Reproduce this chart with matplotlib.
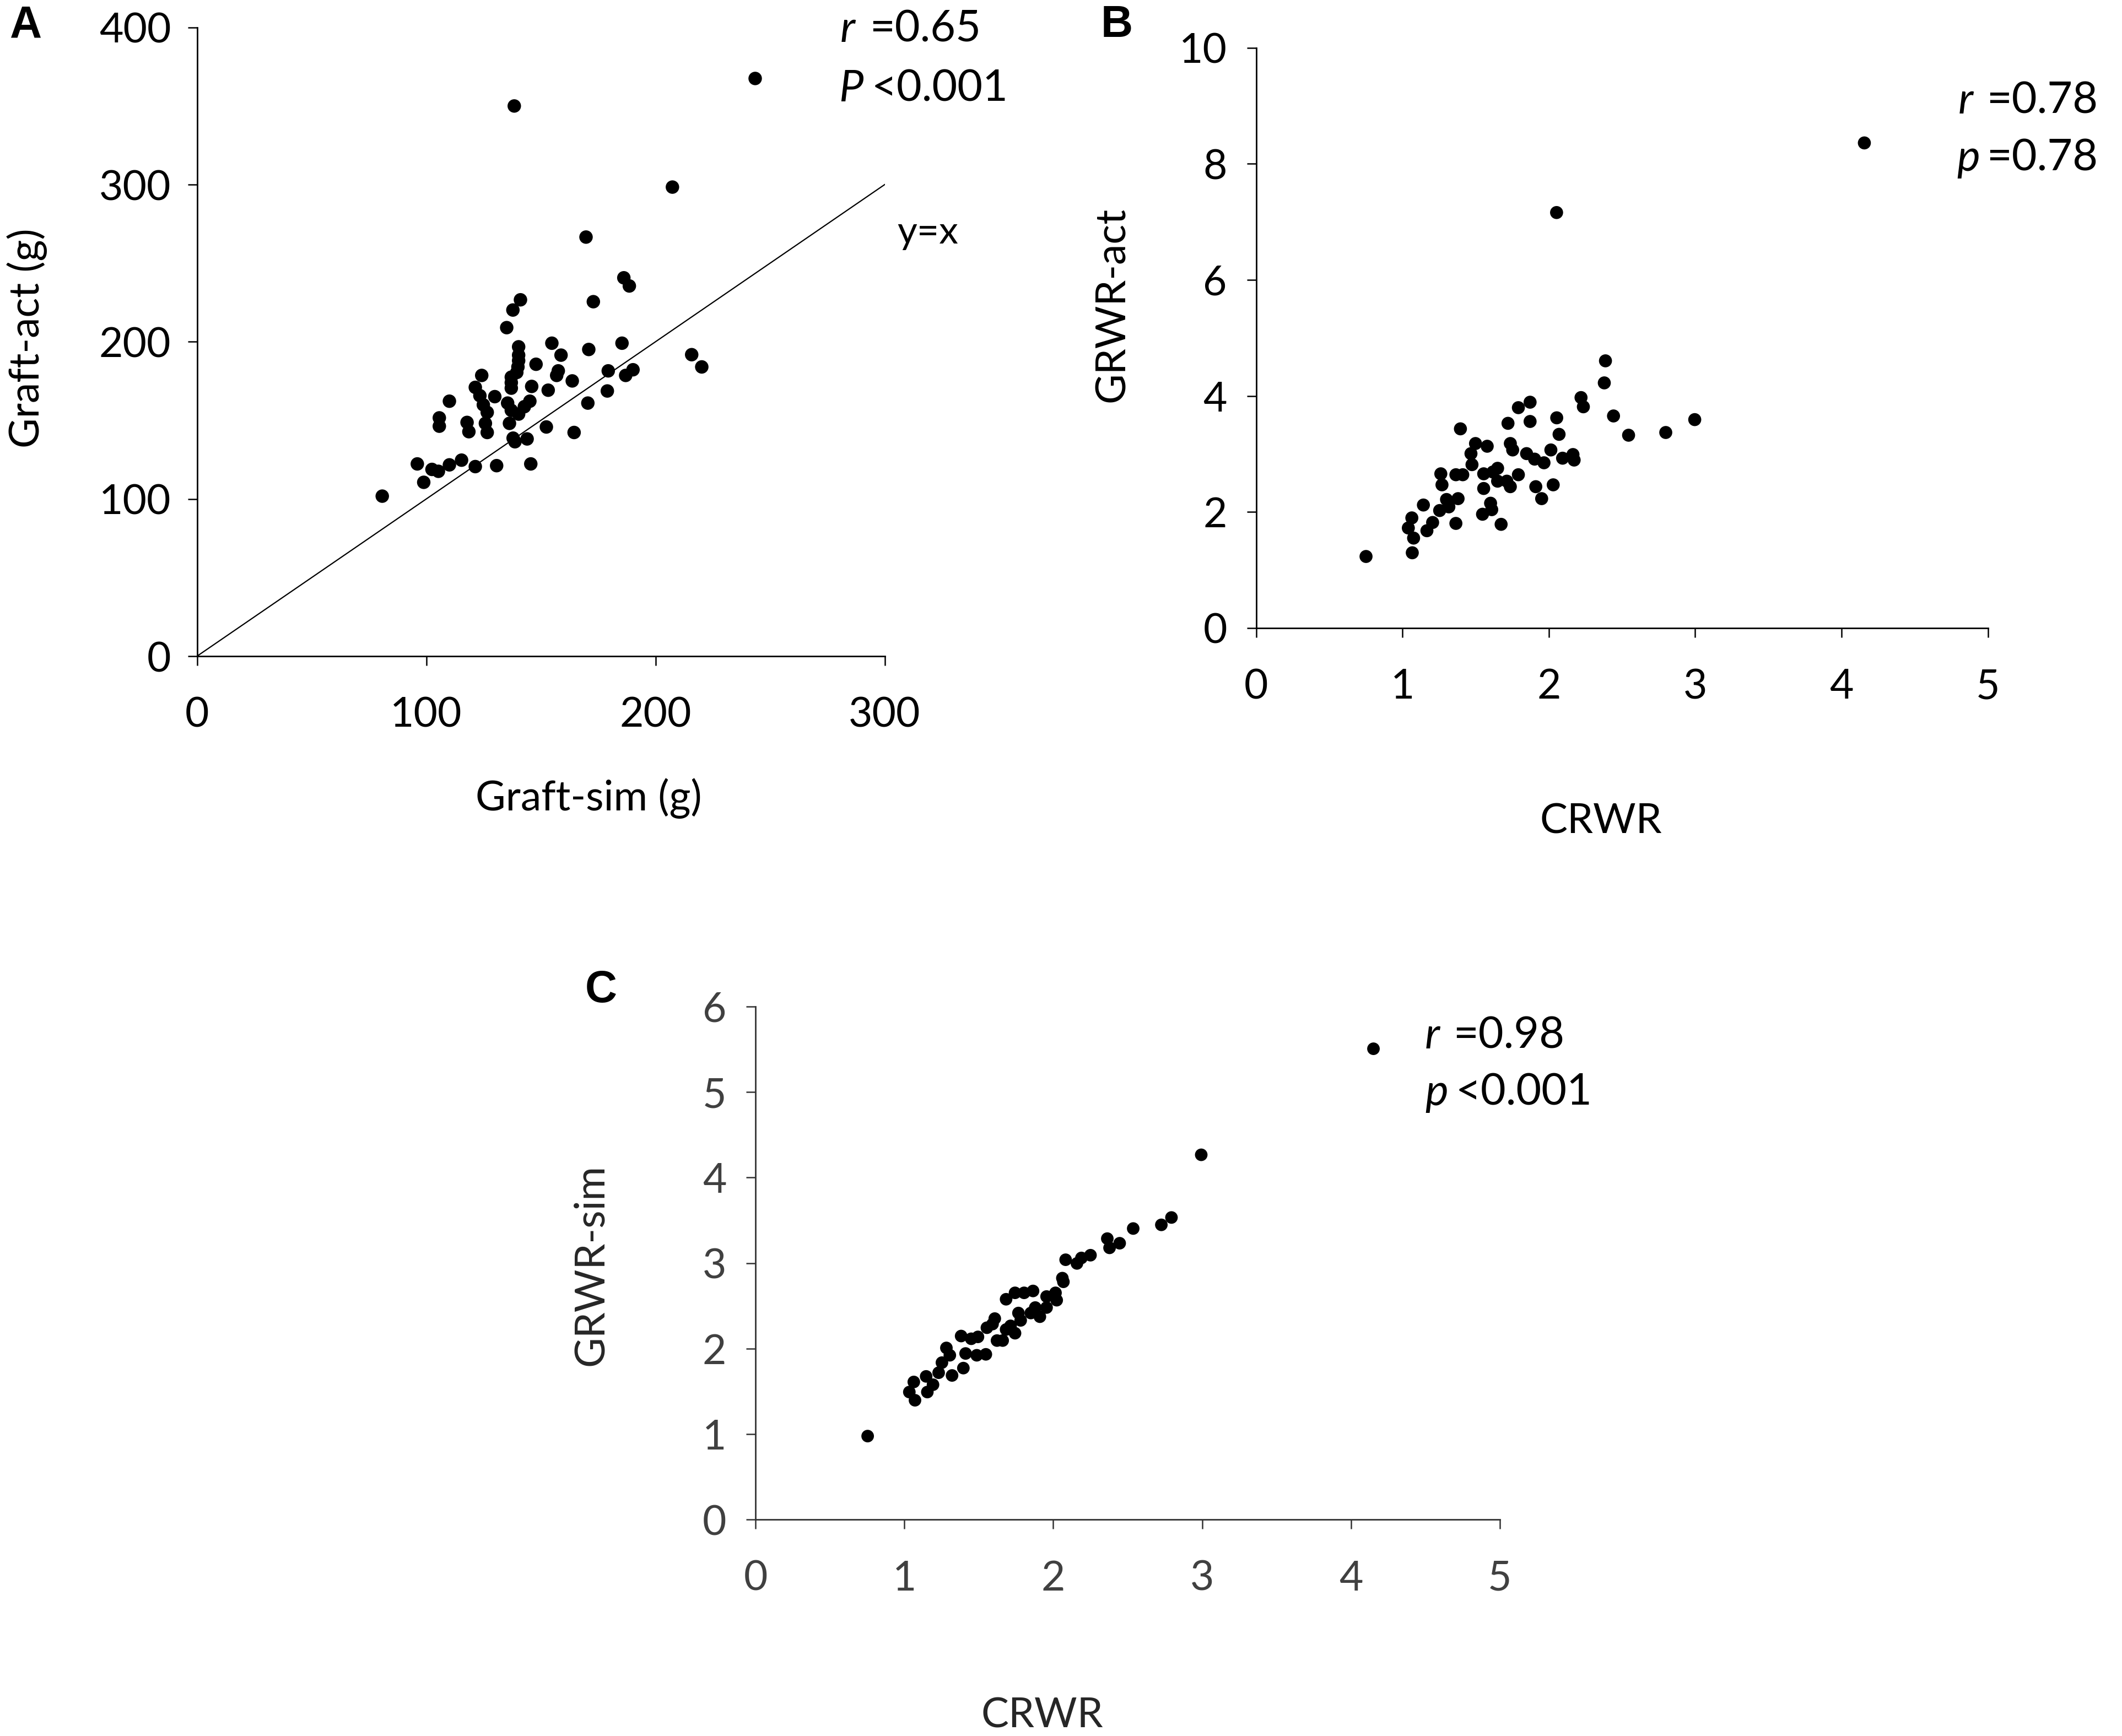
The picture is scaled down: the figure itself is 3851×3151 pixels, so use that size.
import numpy as np
import matplotlib
matplotlib.use("Agg")
import matplotlib.pyplot as plt

plt.rcParams['font.family'] = ['Lato', 'DejaVu Sans']

# ---- panel A: Graft-sim vs Graft-act (g)
graft_sim = [80.8, 138.4, 243.5, 207.4, 169.7, 186.2, 188.6, 172.9, 141.1, 137.8,
             135.1, 140.3, 140.3, 140.3, 140.0, 139.5, 137.1, 137.1, 137.1, 135.5,
             137.1, 140.3, 146.0, 145.2, 142.8, 147.9, 154.8, 158.8, 157.6, 156.9,
             163.7, 153.2, 170.9, 185.4, 179.4, 187.0, 190.2, 179.0, 170.5, 152.4,
             164.5, 124.2, 121.4, 123.4, 124.9, 126.6, 129.9, 110.1, 105.7, 105.7,
             117.8, 118.6, 125.8, 126.6, 136.3, 137.9, 138.7, 144.0, 145.6, 130.7,
             121.4, 115.4, 110.1, 105.3, 102.5, 96.1, 98.9, 215.8, 220.2]
graft_act = [101.8, 350.0, 367.5, 298.4, 266.6, 240.7, 235.5, 225.5, 226.7, 220.2,
             209.0, 196.8, 191.5, 188.0, 184.0, 180.5, 177.5, 174.0, 170.5, 161.0,
             156.4, 154.0, 171.6, 162.2, 158.7, 185.7, 199.1, 191.5, 181.5, 178.6,
             175.1, 169.2, 195.1, 199.1, 181.5, 178.6, 182.2, 168.7, 161.0, 145.8,
             142.3, 178.6, 171.0, 165.7, 159.9, 155.1, 165.1, 162.2, 151.6, 146.3,
             148.7, 142.8, 148.1, 142.3, 148.1, 138.7, 136.4, 138.2, 122.3, 121.2,
             120.6, 124.7, 121.7, 117.6, 118.8, 122.3, 110.6, 191.8, 184.0]

# ---- panel B: CRWR vs GRWR-act
crwr_b = [0.751, 1.067, 1.076, 1.040, 1.064, 1.143, 1.167, 1.206, 1.254, 1.301,
          1.317, 1.365, 1.380, 1.270, 1.262, 1.365, 1.412, 1.396, 1.475, 1.468,
          1.499, 1.579, 1.555, 1.555, 1.547, 1.602, 1.610, 1.618, 1.650, 1.650,
          1.713, 1.737, 1.674, 1.792, 1.721, 1.737, 1.753, 1.792, 1.872, 1.872,
          1.848, 1.903, 1.967, 1.911, 1.951, 2.014, 2.054, 2.070, 2.030, 2.094,
          2.165, 2.173, 2.220, 2.236, 2.379, 2.387, 2.442, 2.545, 2.799, 2.997,
          2.053, 4.156]
grwr_act = [1.232, 1.296, 1.549, 1.723, 1.897, 2.119, 1.676, 1.818, 2.024, 2.214,
            2.087, 1.802, 2.229, 2.467, 2.657, 2.641, 2.641, 3.432, 2.815, 3.005,
            3.179, 3.132, 2.657, 2.404, 1.960, 2.150, 2.039, 2.688, 2.752, 2.530,
            2.530, 2.435, 1.786, 2.641, 3.527, 3.179, 3.068, 3.797, 3.891, 3.559,
            3.005, 2.910, 2.847, 2.435, 2.229, 3.068, 3.622, 3.337, 2.467, 2.926,
            2.989, 2.894, 3.971, 3.812, 4.224, 4.604, 3.654, 3.322, 3.369, 3.591,
            7.16, 8.36]

# ---- panel C: CRWR vs GRWR-sim
crwr_c = [0.753, 1.071, 1.033, 1.063, 1.154, 1.146, 1.192, 1.230, 1.252, 1.282,
          1.305, 1.320, 1.396, 1.381, 1.411, 1.449, 1.494, 1.486, 1.547, 1.554,
          1.592, 1.622, 1.607, 1.660, 1.683, 1.713, 1.743, 1.766, 1.781, 1.683,
          1.743, 1.804, 1.864, 1.849, 1.879, 1.910, 1.955, 1.955, 2.015, 2.023,
          2.061, 2.068, 2.083, 2.159, 2.189, 2.250, 2.363, 2.378, 2.446, 2.537,
          2.726, 2.794, 2.994, 4.151]
grwr_sim = [0.977, 1.396, 1.492, 1.610, 1.492, 1.675, 1.578, 1.718, 1.836, 2.008,
            1.922, 1.686, 1.772, 2.147, 1.943, 2.115, 2.137, 1.922, 1.933, 2.244,
            2.287, 2.094, 2.351, 2.094, 2.223, 2.266, 2.180, 2.416, 2.330, 2.577,
            2.652, 2.652, 2.674, 2.416, 2.480, 2.373, 2.480, 2.609, 2.652, 2.566,
            2.824, 2.781, 3.039, 2.996, 3.060, 3.092, 3.286, 3.178, 3.232, 3.404,
            3.447, 3.533, 4.266, 5.506]

W, H = 3851, 3151
fig = plt.figure(figsize=(W / 100, H / 100), dpi=100)
fig.patch.set_facecolor('white')

TICK_FS = 54
LAB_FS = 54
STAT_FS = 57
LET_FS = 58


def box(x0, x1, ytop, ybot):
    # pixel box -> figure fraction [left, bottom, width, height]
    return [x0 / W, 1 - ybot / H, (x1 - x0) / W, (ybot - ytop) / H]


def fx(x):
    return x / W


def fy(y):
    return 1 - y / H


def style_ax(ax, col='black', tickcol='black'):
    for s in ['top', 'right']:
        ax.spines[s].set_visible(False)
    for s in ['left', 'bottom']:
        ax.spines[s].set_color(col)
        ax.spines[s].set_linewidth(2.0)
    ax.tick_params(direction='out', length=12, width=1.8, colors=col,
                   labelsize=TICK_FS, labelcolor=tickcol, pad=14)
    ax.set_facecolor('none')


def stat(x1, x2, y, sym, rest, color='black'):
    fig.text(fx(x1), fy(y), sym, fontsize=STAT_FS, style='italic', ha='left',
             va='center', color=color)
    fig.text(fx(x2), fy(y), rest, fontsize=STAT_FS, ha='left', va='center', color=color)


# ---- A
axA = fig.add_axes(box(357.6, 1605.5, 49.7, 1191))
axA.scatter(graft_sim, graft_act, s=310, color='black', edgecolors='none', zorder=3)
axA.plot([0, 300], [0, 300], color='black', lw=1.6)
axA.set_xlim(0, 300)
axA.set_ylim(0, 400)
axA.set_xticks([0, 100, 200, 300])
axA.set_yticks([0, 100, 200, 300, 400])
style_ax(axA)
axA.tick_params(axis='x', pad=40)
axA.tick_params(axis='y', pad=22)
fig.text(fx(1068), fy(1449), 'Graft-sim (g)', fontsize=LAB_FS, ha='center', va='center')
fig.text(fx(49), fy(614), 'Graft-act (g)', fontsize=LAB_FS, ha='center', va='center', rotation=90)
fig.text(fx(1628), fy(422), 'y=x', fontsize=50, ha='left', va='center')
stat(1525, 1578, 54, 'r', '=0.65')
stat(1522, 1582, 162, 'P', '<0.001')
fig.text(fx(18), fy(46), 'A', fontsize=LET_FS, fontweight='bold', family='Liberation Sans',
         ha='left', va='center')

# ---- B
axB = fig.add_axes(box(2279.6, 3607.6, 86.7, 1139.8))
axB.scatter(crwr_b, grwr_act, s=290, color='black', edgecolors='none', zorder=3)
axB.set_xlim(0, 5)
axB.set_ylim(0, 10)
axB.set_xticks(range(0, 6))
axB.set_yticks(range(0, 11, 2))
style_ax(axB)
axB.tick_params(axis='x', pad=40)
axB.tick_params(axis='y', pad=26)
fig.text(fx(2905), fy(1491), 'CRWR', fontsize=LAB_FS, ha='center', va='center')
fig.text(fx(2019), fy(553), 'GRWR-act', fontsize=LAB_FS, ha='center', va='center', rotation=90)
stat(3554, 3605, 184, 'r', '=0.78')
stat(3551, 3605, 287, 'p', '=0.78')
fig.text(fx(1998), fy(46), 'B', fontsize=LET_FS, fontweight='bold', family='Liberation Sans',
         ha='left', va='center')

# ---- C
axC = fig.add_axes(box(1371.2, 2721.9, 1826.9, 2758.3))
axC.scatter(crwr_c, grwr_sim, s=270, color='black', edgecolors='none', zorder=3)
axC.set_xlim(0, 5)
axC.set_ylim(0, 6)
axC.set_xticks(range(0, 6))
axC.set_yticks(range(0, 7))
style_ax(axC, col='#333333', tickcol='#404040')
axC.tick_params(axis='x', pad=40)
axC.tick_params(axis='y', pad=26)
fig.text(fx(1891), fy(3114), 'CRWR', fontsize=LAB_FS, ha='center', va='center', color='#262626')
fig.text(fx(1073), fy(2296), 'GRWR-sim', fontsize=LAB_FS, ha='center', va='center',
         rotation=90, color='#262626')
stat(2586, 2637, 1881, 'r', '=0.98')
stat(2586, 2642, 1984, 'p', '<0.001')
fig.text(fx(1062), fy(1798), 'C', fontsize=LET_FS, fontweight='bold', family='Liberation Sans',
         ha='left', va='center')

fig.savefig('out.png', dpi=100, facecolor='white')
